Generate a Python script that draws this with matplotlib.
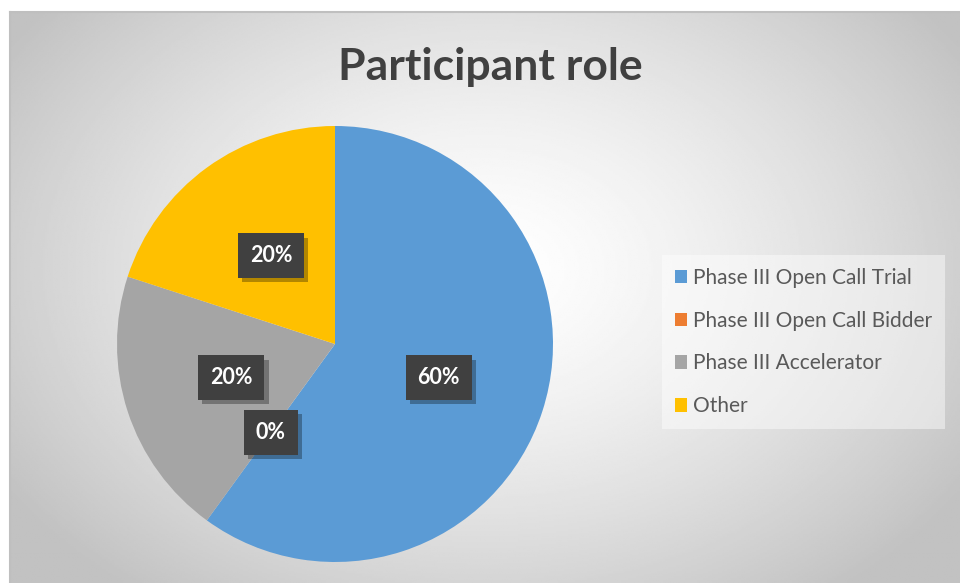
import numpy as np
import matplotlib
matplotlib.use("Agg")
import matplotlib.pyplot as plt
from matplotlib.patches import Patch
import matplotlib.patheffects as pe

roles = ["Phase III Open Call Trial", "Phase III Open Call Bidder",
         "Phase III Accelerator", "Other"]
shares = [60, 0, 20, 20]
colors = ["#5B9BD5", "#ED7D31", "#A5A5A5", "#FFC000"]

W, H = 960, 583
fig = plt.figure(figsize=(W / 100, H / 100), dpi=100)
fig.patch.set_facecolor("white")

# chart area with a radial gray gradient
bg = fig.add_axes([10 / W, 0, 950 / W, 571 / H])
yy, xx = np.mgrid[0:1:300j, 0:1:500j]
d = np.sqrt(((xx - 0.5) / 0.6) ** 2 + ((yy - 0.45) / 0.72) ** 2)
shade = 1.0 - 0.24 * np.clip(d, 0, 1) ** 1.4
bg.imshow(shade, cmap="gray", vmin=0, vmax=1, aspect="auto",
          extent=[0, 1, 0, 1], origin="upper")
bg.set_xticks([])
bg.set_yticks([])
for s in ["top", "left"]:
    bg.spines[s].set_color("#bfbfbf")
    bg.spines[s].set_linewidth(1.5)
for s in ["bottom", "right"]:
    bg.spines[s].set_visible(False)

fig.text(490 / W, 1 - 67 / H, "Participant role", ha="center", va="center",
         fontsize=32, fontweight="bold", color="#404040", family="Lato")

# pie
cx, cy, r = 335, 344, 218
ax = fig.add_axes([(cx - r) / W, (H - cy - r) / H, 2 * r / W, 2 * r / H])
wedges, _ = ax.pie(shares, colors=colors, startangle=90, counterclock=False,
                   radius=1.0, wedgeprops=dict(linewidth=0))
ax.set_xlim(-1, 1)
ax.set_ylim(-1, 1)
ax.set_aspect("equal")
ax.axis("off")

start = 90.0
total = sum(shares)
for v in shares:
    ang = np.deg2rad(start - 360 * v / total / 2)
    start -= 360 * v / total
    x, y = 0.5 * np.cos(ang), 0.5 * np.sin(ang)
    t = ax.text(x, y, "%d%%" % v, ha="center", va="center", fontsize=15.5,
                fontweight="bold", color="white", family="Lato",
                bbox=dict(boxstyle="square,pad=0.55", fc="#404040", ec="none"))
    t.get_bbox_patch().set_path_effects(
        [pe.SimplePatchShadow(offset=(3, -3), shadow_rgbFace="black", alpha=0.3),
         pe.Normal()])

handles = [Patch(facecolor=c, edgecolor="none") for c in colors]
leg = fig.legend(handles, roles, loc="center left",
                 bbox_to_anchor=(662 / W, 1 - 342 / H), borderaxespad=0,
                 frameon=True, handlelength=0.6, handleheight=0.6,
                 handletextpad=0.3, labelspacing=1.1, borderpad=0.6,
                 fancybox=False, prop={"family": "Lato", "size": 15})
leg.get_frame().set_facecolor("white")
leg.get_frame().set_alpha(0.45)
leg.get_frame().set_edgecolor("none")
for t in leg.get_texts():
    t.set_color("#595959")

fig.savefig("out.png", dpi=100)
